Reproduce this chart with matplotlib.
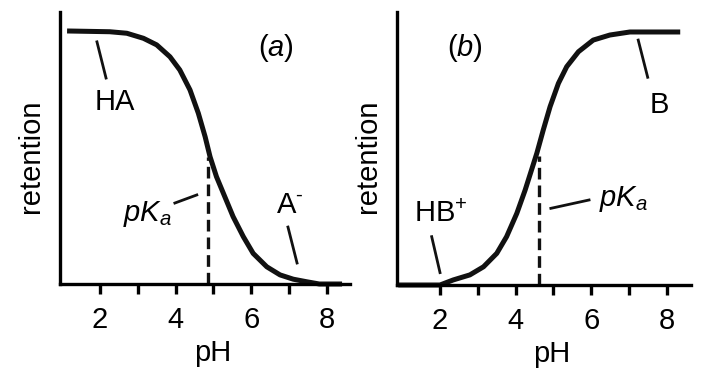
import matplotlib
matplotlib.use("Agg")
import matplotlib.pyplot as plt

plt.rcParams['font.family'] = ['Liberation Sans', 'DejaVu Sans']
plt.rcParams['mathtext.fontset'] = 'custom'
plt.rcParams['mathtext.rm'] = 'Liberation Sans'
plt.rcParams['mathtext.it'] = 'Liberation Sans:italic'

# dane
# (a) kwas HA
pH_a = [1.13, 2.26, 2.71, 3.15, 3.50, 3.85, 4.11, 4.38, 4.60, 4.78, 4.91, 5.08,
        5.30, 5.52, 5.79, 6.05, 6.41, 6.76, 7.11, 7.46, 7.8, 8.4]
ret_a = [1.0, 0.997, 0.991, 0.971, 0.945, 0.898, 0.846, 0.767, 0.675, 0.582,
         0.503, 0.424, 0.345, 0.266, 0.187, 0.121, 0.068, 0.036, 0.019, 0.009,
         0.0, 0.0]
pKa_a = 4.86

# (b) zasada B
pH_b = [0.9, 2.0, 2.35, 2.79, 3.15, 3.50, 3.76, 4.03, 4.25, 4.42, 4.56, 4.73,
        4.91, 5.13, 5.35, 5.66, 6.05, 6.49, 7.02, 8.35]
ret_b = [0.0, 0.0, 0.02, 0.04, 0.072, 0.125, 0.191, 0.283, 0.375, 0.455, 0.521,
         0.613, 0.705, 0.797, 0.863, 0.922, 0.968, 0.988, 1.0, 1.0]
pKa_b = 4.62

ticks = [2, 3, 4, 5, 6, 7, 8]
tick_labels = ["2", "", "4", "", "6", "", "8"]

FS = 21

fig = plt.figure(figsize=(7.27, 3.82), dpi=100)
axA = fig.add_axes([60/727, 98/382, 290/727, 272/382])
axB = fig.add_axes([397/727, 97/382, 294/727, 273/382])


def style(ax, xlim, ylim):
    ax.set_xlim(*xlim)
    ax.set_ylim(*ylim)
    for s in ["top", "right"]:
        ax.spines[s].set_visible(False)
    for s in ["left", "bottom"]:
        ax.spines[s].set_linewidth(2.4)
    ax.set_xticks(ticks)
    ax.set_xticklabels(tick_labels)
    ax.set_yticks([])
    ax.tick_params(axis="x", direction="out", length=7, width=2.4,
                   labelsize=FS, pad=9)
    ax.set_xlabel("pH", fontsize=FS, labelpad=3.5)
    ax.xaxis.label.set_x(0.527)
    ax.set_ylabel("retention", fontsize=FS, va="center")
    ax.yaxis.set_label_coords(-0.1, 0.47)


def tick_line(ax, p1, p2):
    ax.plot([p1[0], p2[0]], [p1[1], p2[1]], color="#111111", lw=2.0,
            clip_on=False)


# wykres (a)
style(axA, (0.943, 8.61), (0, 1.075))
axA.plot(pH_a, ret_a, color="#111111", lw=3.6, solid_capstyle="butt",
         solid_joinstyle="round", clip_on=False)
axA.plot([pKa_a, pKa_a], [0, 0.5], color="#111111", lw=2.4,
         linestyle=(0, (3.5, 1.8)))
axA.text(6.66, 0.933, "($a$)", fontsize=FS, ha="center", va="center")
axA.text(2.40, 0.72, "HA", fontsize=FS, ha="center", va="center")
tick_line(axA, (1.92, 0.957), (2.16, 0.814))
axA.text(3.26, 0.277, "$pK_a$", fontsize=FS, ha="center", va="center")
tick_line(axA, (3.98, 0.32), (4.56, 0.352))
axA.text(7.02, 0.312, "A$^{\\text{-}}$", fontsize=FS, ha="center",
         va="center")
tick_line(axA, (6.97, 0.225), (7.21, 0.083))

# wykres (b)
style(axB, (0.863, 8.635), (0, 1.079))
axB.plot(pH_b, ret_b, color="#111111", lw=3.6, solid_capstyle="butt",
         solid_joinstyle="round", clip_on=False)
axB.plot([pKa_b, pKa_b], [0, 0.51], color="#111111", lw=2.4,
         linestyle=(0, (3.5, 1.8)))
axB.text(2.66, 0.937, "($b$)", fontsize=FS, ha="center", va="center")
axB.text(7.79, 0.711, "B", fontsize=FS, ha="center", va="center")
tick_line(axB, (7.24, 0.968), (7.49, 0.821))
axB.text(2.03, 0.281, "HB$^{+}$", fontsize=FS, ha="center", va="center")
tick_line(axB, (1.78, 0.191), (2.0, 0.049))
axB.text(6.84, 0.34, "$pK_a$", fontsize=FS, ha="center", va="center")
tick_line(axB, (4.93, 0.303), (5.94, 0.336))

fig.savefig("out.png", dpi=100)
